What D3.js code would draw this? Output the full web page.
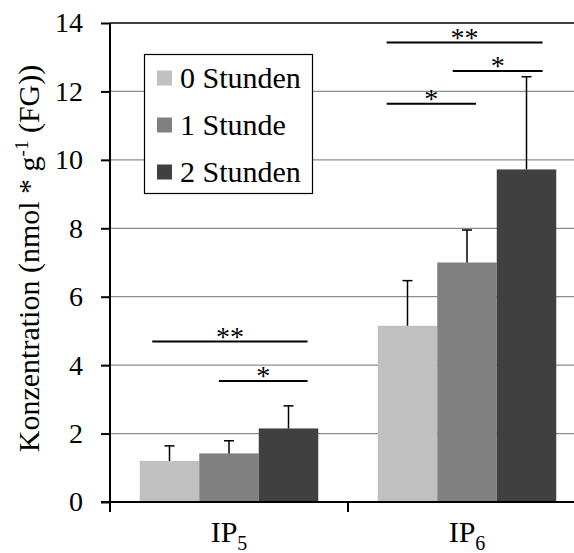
<!DOCTYPE html>
<html>
<head>
<meta charset="utf-8">
<script src="https://cdn.jsdelivr.net/npm/d3@7"></script>
<style>
  body { margin: 0; background: #fff; }
  svg { display: block; }
</style>
</head>
<body>
<svg id="chart" width="574" height="553"></svg>
<script>
// data
const categories = ["IP", "IP"]
const catSubs = ["5", "6"]
const seriesNames = ["0 Stunden", "1 Stunde", "2 Stunden"]
const seriesColors = ["#c0c0c0", "#808080", "#404040"]
const hours0 = [1.2, 5.15]
const hours1 = [1.42, 7.0]
const hours2 = [2.15, 9.72]
const sd0 = [0.44, 1.32]
const sd1 = [0.37, 0.95]
const sd2 = [0.66, 2.71]
const yTicks = [0, 2, 4, 6, 8, 10, 12, 14]
// significance bars: category, start/end in bar units, height, label
const sigCat = [0, 0, 1, 1, 1]
const sigFrom = [0.21, 1.33, 0.15, 1.26, 0.15]
const sigTo = [2.82, 2.82, 2.77, 2.77, 1.65]
const sigY = [4.69, 3.54, 13.43, 12.6, 11.64]
const sigLabel = ["**", "*", "**", "*", "*"]

const means = [hours0, hours1, hours2]
const sds = [sd0, sd1, sd2]
const serif = "Liberation Serif"

let svg = d3.select("#chart")
let margin = { top: 23, left: 110, bottom: 51 }
let height = 553
let bodyBottom = height - margin.bottom

let xScale = d3.scaleBand()
    .domain(d3.range(categories.length))
    .range([margin.left, margin.left + 476])
    .padding(0)

let xSub = d3.scaleBand()
    .domain(d3.range(seriesNames.length))
    .range([0, xScale.bandwidth()])
    .paddingInner(0)
    .paddingOuter(0.5)

let yScale = d3.scaleLinear()
    .domain([0, 14])
    .range([bodyBottom, margin.top])

// gridlines
svg.append("g")
    .selectAll("line")
    .data(yTicks.filter(d => d > 0 && d < 14))
    .enter().append("line")
    .attr("x1", margin.left).attr("x2", 574)
    .attr("y1", d => yScale(d)).attr("y2", d => yScale(d))
    .attr("stroke", "#8c8c8c")
    .attr("stroke-width", 1.2)

// top frame line
svg.append("line")
    .attr("x1", margin.left).attr("x2", 574)
    .attr("y1", yScale(14)).attr("y2", yScale(14))
    .attr("stroke", "#000").attr("stroke-width", 1.5)

// bars
let rows = []
categories.forEach((c, ci) => {
    seriesNames.forEach((s, si) => {
        rows.push({ ci: ci, si: si, v: means[si][ci], sd: sds[si][ci] })
    })
})

svg.append("g")
    .selectAll("rect")
    .data(rows)
    .enter().append("rect")
    .attr("x", d => xScale(d.ci) + xSub(d.si))
    .attr("y", d => yScale(d.v))
    .attr("width", xSub.bandwidth())
    .attr("height", d => yScale(0) - yScale(d.v))
    .attr("fill", d => seriesColors[d.si])

// error bars (upper only)
let errG = svg.append("g").attr("stroke", "#000").attr("stroke-width", 1.5)
rows.forEach(d => {
    let cx = xScale(d.ci) + xSub(d.si) + xSub.bandwidth() / 2
    errG.append("line")
        .attr("x1", cx).attr("x2", cx)
        .attr("y1", yScale(d.v)).attr("y2", yScale(d.v + d.sd))
    errG.append("line")
        .attr("x1", cx - 5).attr("x2", cx + 5)
        .attr("y1", yScale(d.v + d.sd)).attr("y2", yScale(d.v + d.sd))
})

// y axis
let axisY = d3.axisLeft(yScale)
    .tickValues(yTicks)
    .tickSize(9)
    .tickPadding(18)
    .tickFormat(d3.format("d"))

let gy = svg.append("g")
    .attr("transform", `translate(${margin.left},0)`)
    .call(axisY)
gy.select(".domain").attr("stroke-width", 2).attr("d", `M0,${margin.top}V${bodyBottom + 10}`)
gy.selectAll(".tick line").attr("stroke-width", 2)
gy.selectAll(".tick text")
    .style("font-family", serif)
    .style("font-size", "28px")
    .attr("fill", "#000")

// x axis
let gx = svg.append("g")
svg.append("line")
    .attr("x1", margin.left - 9).attr("x2", 574)
    .attr("y1", bodyBottom).attr("y2", bodyBottom)
    .attr("stroke", "#000").attr("stroke-width", 2)
gx.selectAll("line")
    .data(d3.range(categories.length + 1))
    .enter().append("line")
    .attr("x1", d => margin.left + d * xScale.step())
    .attr("x2", d => margin.left + d * xScale.step())
    .attr("y1", bodyBottom).attr("y2", bodyBottom + 10)
    .attr("stroke", "#000").attr("stroke-width", 2)

let catText = gx.selectAll("text")
    .data(categories)
    .enter().append("text")
    .attr("x", (d, i) => xScale(i) + xScale.bandwidth() / 2)
    .attr("y", 542)
    .attr("text-anchor", "middle")
    .style("font-family", serif)
    .style("font-size", "30px")
catText.append("tspan").text(d => d)
catText.append("tspan")
    .style("font-size", "20px")
    .attr("dy", 8)
    .text((d, i) => catSubs[i])

// y label
let ylab = svg.append("text")
    .attr("transform", `translate(39,${(margin.top + bodyBottom) / 2 - 4}) rotate(-90)`)
    .attr("text-anchor", "middle")
    .style("font-family", serif)
    .style("font-size", "30px")
ylab.append("tspan").text("Konzentration (nmol * g")
ylab.append("tspan").style("font-size", "19px").attr("dy", -11).text("-1")
ylab.append("tspan").attr("dy", 11).text(" (FG))")

// significance markers
let sigG = svg.append("g")
sigLabel.forEach((lab, i) => {
    let x0 = xScale(sigCat[i]) + xSub(0)
    let unit = xSub.bandwidth()
    let y = yScale(sigY[i])
    sigG.append("line")
        .attr("x1", x0 + sigFrom[i] * unit).attr("x2", x0 + sigTo[i] * unit)
        .attr("y1", y).attr("y2", y)
        .attr("stroke", "#000").attr("stroke-width", 2)
    sigG.append("text")
        .attr("x", x0 + (sigFrom[i] + sigTo[i]) / 2 * unit)
        .attr("y", y + 4)
        .attr("text-anchor", "middle")
        .style("font-family", serif)
        .style("font-size", "28px")
        .text(lab)
})

// legend
let legend = svg.append("g")
legend.append("rect")
    .attr("x", 144.5).attr("y", 54.5)
    .attr("width", 168).attr("height", 139)
    .attr("fill", "#fff").attr("stroke", "#000").attr("stroke-width", 1.2)

let item = legend.selectAll("g.item")
    .data(seriesNames)
    .enter().append("g")
    .attr("class", "item")
    .attr("transform", (d, i) => `translate(157,${78 + i * 47})`)
item.append("rect")
    .attr("x", 0).attr("y", -7.5)
    .attr("width", 15).attr("height", 15)
    .attr("fill", (d, i) => seriesColors[i])
item.append("text")
    .attr("x", 23).attr("y", 10)
    .style("font-family", serif)
    .style("font-size", "30px")
    .text(d => d)
</script>
</body>
</html>
